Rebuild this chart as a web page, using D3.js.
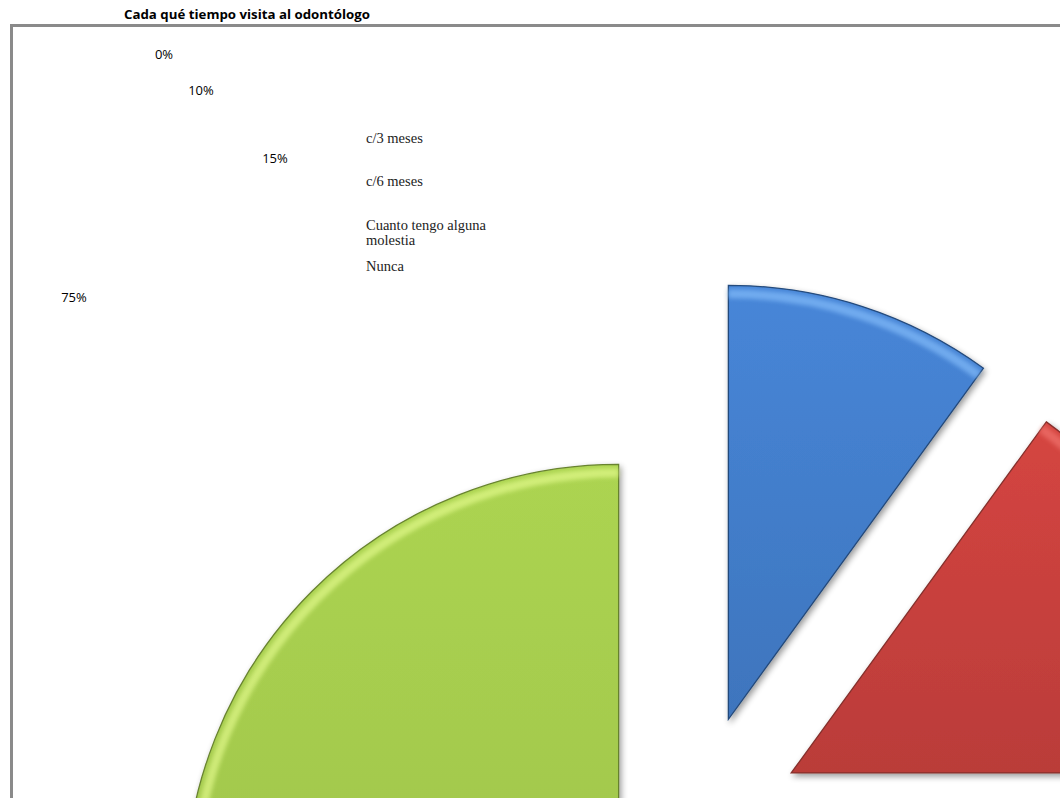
<!DOCTYPE html>
<html><head><meta charset="utf-8">
<script src="https://cdn.jsdelivr.net/npm/d3@7"></script>
<style>html,body{margin:0;padding:0;background:#fff;overflow:hidden}</style>
</head><body>
<svg id="c" width="1060" height="798"></svg>
<script>
const title = "Cada qué tiempo visita al odontólogo";
const categories = ["c/3 meses", "c/6 meses", "Cuanto tengo alguna molestia", "Nunca"];
const values = [0, 10, 15, 75];
const pctLabels = ["0%", "10%", "15%", "75%"];
const colors = ["#8064A2", "#4582D2", "#CF433F", "#A7CE4F"];
const darks = ["#5c4878", "#24497a", "#85302c", "#66812e"];
const lights = ["#b09ad0", "#8cc4ff", "#f47a74", "#eaff94"];

const W = 1060, H = 798;
const svg = d3.select("#c");
const defs = svg.append("defs");

// shadow filter
const f = defs.append("filter").attr("id", "sh").attr("x", "-20%").attr("y", "-20%").attr("width", "140%").attr("height", "140%");
f.append("feGaussianBlur").attr("in", "SourceAlpha").attr("stdDeviation", 3).attr("result", "b");
f.append("feOffset").attr("in", "b").attr("dx", 2).attr("dy", 3).attr("result", "o");
f.append("feComponentTransfer").attr("in", "o").attr("result", "o2")
  .append("feFuncA").attr("type", "linear").attr("slope", 0.4);
const fm = f.append("feMerge");
fm.append("feMergeNode").attr("in", "o2");
fm.append("feMergeNode").attr("in", "SourceGraphic");

const bl = defs.append("filter").attr("id", "bl");
bl.append("feGaussianBlur").attr("stdDeviation", 2.2);

colors.forEach((c, i) => {
  const g = defs.append("linearGradient").attr("id", "g" + i)
    .attr("x1", 0).attr("y1", 0).attr("x2", 0).attr("y2", 1);
  g.append("stop").attr("offset", "0%").attr("stop-color", d3.color(c).brighter(0.08));
  g.append("stop").attr("offset", "100%").attr("stop-color", d3.color(c).darker(0.3));
});

// chart area border
svg.append("rect").attr("x", 11.5).attr("y", 25.5).attr("width", 1200).attr("height", 1000)
  .attr("fill", "none").attr("stroke", "#8a8a8a").attr("stroke-width", 3);

// title
svg.append("text").attr("x", 247).attr("y", 19).attr("text-anchor", "middle")
  .attr("font-family", "'Open Sans', 'Liberation Sans', sans-serif").attr("font-weight", "bold")
  .attr("font-size", 12.5).attr("textLength", 246).attr("lengthAdjust", "spacingAndGlyphs")
  .attr("fill", "#000").text(title);

// pie
const cx = 695, cy = 822, R = 434, explode = 108;
const pie = d3.pie().sort(null).value(d => d)(values);
const arc = d3.arc().innerRadius(0).outerRadius(R);
const hiArc = d3.arc().innerRadius(R - 13).outerRadius(R - 4);

const gPie = svg.append("g").attr("transform", `translate(${cx},${cy})`);
const slices = gPie.selectAll("g.s").data(pie.filter(p => p.value > 0)).join("g")
  .attr("class", "s")
  .attr("transform", d => {
    const a = (d.startAngle + d.endAngle) / 2;
    return `translate(${explode * Math.sin(a)},${-explode * Math.cos(a)})`;
  });
slices.append("path").attr("d", arc)
  .attr("fill", d => `url(#g${d.index})`)
  .attr("stroke", d => darks[d.index]).attr("stroke-width", 1.3)
  .attr("filter", "url(#sh)");
// bevel highlight near the rim
slices.append("path").attr("d", hiArc)
  .attr("fill", d => lights[d.index]).attr("opacity", 0.6).attr("filter", "url(#bl)");

// percent labels (positions as drawn in the reference)
const pctPos = [[164, 59], [201, 95], [275, 163], [74, 302]];
svg.append("g").selectAll("text").data(pctLabels).join("text")
  .attr("x", (d, i) => pctPos[i][0]).attr("y", (d, i) => pctPos[i][1])
  .attr("text-anchor", "middle")
  .attr("font-family", "'Open Sans', 'Liberation Sans', sans-serif")
  .attr("font-size", 13).attr("fill", "#000").text(d => d);

// legend (no swatches visible in the reference)
const legY = [143, 186, 230, 271];
const lg = svg.append("g").attr("font-family", "'Liberation Serif', 'Times New Roman', serif")
  .attr("font-size", 14.5).attr("fill", "#222");
categories.forEach((c, i) => {
  const t = lg.append("text").attr("x", 366).attr("y", legY[i]);
  if (c.length > 20) {
    const words = c.split(" ");
    t.append("tspan").attr("x", 366).text(words.slice(0, 3).join(" "));
    t.append("tspan").attr("x", 366).attr("dy", 15).text(words.slice(3).join(" "));
  } else t.text(c);
});
</script>
</body></html>
